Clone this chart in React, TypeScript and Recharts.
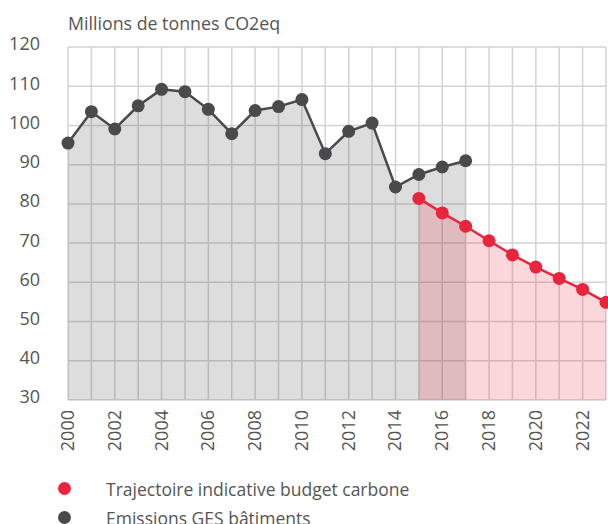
import { ComposedChart, Area, XAxis, YAxis, CartesianGrid } from "recharts";

// ─── Data ────────────────────────────────────────

const years = [
  2000, 2001, 2002, 2003, 2004, 2005, 2006, 2007, 2008, 2009, 2010, 2011,
  2012, 2013, 2014, 2015, 2016, 2017, 2018, 2019, 2020, 2021, 2022, 2023,
];

// Emissions GES bâtiments (2000 → 2017)
const emissions = [
  95.5, 103.5, 99.1, 105, 109.2, 108.6, 104.1, 97.9, 103.8, 104.8, 106.6,
  92.8, 98.5, 100.6, 84.3, 87.5, 89.4, 91.0,
];

// Trajectoire indicative budget carbone (2015 → 2023)
const trajectoryStart = 2015;
const trajectory = [81.4, 77.7, 74.3, 70.6, 67.0, 63.9, 61.0, 58.2, 54.9];

const yTicks = [30, 40, 50, 60, 70, 80, 90, 100, 110, 120];

const DARK = "#4a4a4d";
const RED = "#e8253d";
const TEXT = "#555555";
const FONT = "'Open Sans', sans-serif";

const chartData = years.map((year, i) => ({
  year,
  emissions: i < emissions.length ? emissions[i] : null,
  trajectory:
    year >= trajectoryStart ? trajectory[year - trajectoryStart] : null,
}));

// ─── Legend ──────────────────────────────────────

function ChartLegend() {
  const items = [
    { label: "Trajectoire indicative budget carbone", color: RED },
    { label: "Emissions GES bâtiments", color: DARK },
  ];
  return (
    <div
      style={{
        position: "absolute",
        left: 0,
        top: 474,
        fontFamily: FONT,
        fontSize: 17.5,
        color: TEXT,
      }}
    >
      {items.map((it) => (
        <div
          key={it.label}
          style={{ display: "flex", alignItems: "center", height: 29, whiteSpace: "nowrap" }}
        >
          <span
            style={{
              display: "inline-block",
              width: 13,
              height: 13,
              borderRadius: "50%",
              background: it.color,
              marginLeft: 58,
              marginRight: 35,
            }}
          />
          {it.label}
        </div>
      ))}
    </div>
  );
}

// ─── Component ───────────────────────────────────

export default function App() {
  return (
    <div
      style={{
        position: "absolute",
        left: 0,
        top: 0,
        width: 608,
        height: 524,
        background: "#fff",
        overflow: "hidden",
      }}
    >
      <div
        style={{
          position: "absolute",
          left: 68,
          top: 11,
          fontFamily: FONT,
          fontSize: 17.8,
          color: TEXT,
          whiteSpace: "nowrap",
        }}
      >
        Millions de tonnes CO2eq
      </div>
      <ComposedChart
        width={608}
        height={524}
        data={chartData}
        margin={{ top: 47, right: 2, left: 0, bottom: 0 }}
      >
        <CartesianGrid stroke="#d3d3d3" strokeWidth={1.5} />
        <XAxis
          dataKey="year"
          type="number"
          domain={[2000, 2023]}
          ticks={years}
          interval={0}
          height={124}
          axisLine={false}
          tickLine={false}
          tickSize={0}
          tickMargin={10}
          tick={(props: any) => {
            const { x, y, payload } = props;
            if (payload.value % 2 !== 0) return <g />;
            return (
              <text
                x={x}
                y={y}
                transform={`rotate(-90, ${x}, ${y})`}
                textAnchor="end"
                dy={6}
                fill={TEXT}
                fontSize={18}
                fontFamily={FONT}
              >
                {payload.value}
              </text>
            );
          }}
        />
        <YAxis
          domain={[30, 120]}
          ticks={yTicks}
          width={68}
          axisLine={false}
          tickLine={false}
          tickSize={0}
          tickMargin={28}
          tick={{ fill: TEXT, fontSize: 18, fontFamily: FONT, dy: -3 }}
        />
        <Area
          type="linear"
          dataKey="emissions"
          stroke={DARK}
          strokeWidth={2.5}
          fill={DARK}
          fillOpacity={0.19}
          dot={{ r: 6.5, fill: DARK, fillOpacity: 1, stroke: "none" }}
          activeDot={false}
          isAnimationActive={false}
        />
        <Area
          type="linear"
          dataKey="trajectory"
          stroke={RED}
          strokeWidth={2.5}
          fill={RED}
          fillOpacity={0.19}
          dot={{ r: 6.5, fill: RED, fillOpacity: 1, stroke: "none" }}
          activeDot={false}
          isAnimationActive={false}
        />
      </ComposedChart>
      <ChartLegend />
    </div>
  );
}
